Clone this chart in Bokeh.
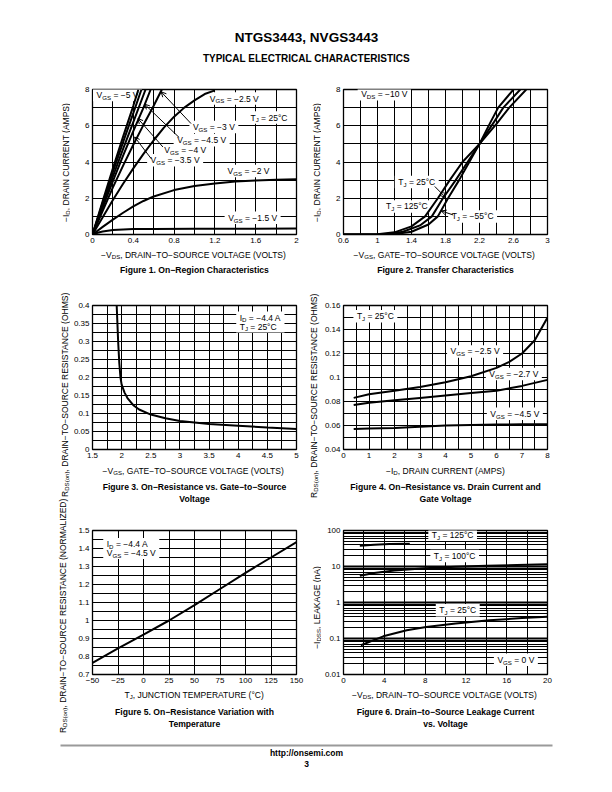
import re
import math
from bokeh.plotting import figure
from bokeh.models import Range1d, FixedTicker, Label, Arrow, OpenHead, Grid
from bokeh.layouts import column, row
from bokeh.embed import file_html
from bokeh.resources import INLINE

FONT = "Liberation Sans"
M = "\u2212"

# ====================== DATA ======================
# ---- Figure 1: On-Region Characteristics (-VDS vs -ID)
f1_vds_m5 = [0, 0.1, 0.2, 0.3, 0.4, 0.45]
f1_id_m5 = [0, 1.85, 3.65, 5.4, 7.1, 8.0]
f1_vds_m45 = [0, 0.1, 0.2, 0.3, 0.4, 0.48]
f1_id_m45 = [0, 1.75, 3.45, 5.1, 6.7, 8.0]
f1_vds_m4 = [0, 0.1, 0.2, 0.3, 0.4, 0.52]
f1_id_m4 = [0, 1.62, 3.2, 4.72, 6.2, 8.0]
f1_vds_m35 = [0, 0.1, 0.2, 0.3, 0.4, 0.5, 0.57]
f1_id_m35 = [0, 1.5, 2.95, 4.35, 5.7, 7.0, 8.0]
f1_vds_m3 = [0, 0.1, 0.2, 0.3, 0.4, 0.5, 0.6, 0.68]
f1_id_m3 = [0, 1.3, 2.6, 3.8, 4.95, 6.05, 7.1, 8.0]
f1_vds_m25 = [0, 0.1, 0.2, 0.3, 0.4, 0.5, 0.6, 0.7, 0.8, 0.9, 1.0, 1.1, 1.2]
f1_id_m25 = [0, 0.95, 1.9, 2.8, 3.65, 4.45, 5.2, 5.9, 6.5, 7.0, 7.4, 7.75, 7.95]
f1_vds_m2 = [0, 0.1, 0.2, 0.3, 0.4, 0.5, 0.6, 0.8, 1.0, 1.2, 1.4, 1.6, 1.8, 2.0]
f1_id_m2 = [0, 0.42, 0.82, 1.2, 1.55, 1.85, 2.1, 2.45, 2.68, 2.82, 2.92, 2.98, 3.02, 3.05]
f1_vds_m15 = [0, 0.05, 0.1, 0.2, 0.3, 0.4, 0.6, 1.0, 1.5, 2.0]
f1_id_m15 = [0, 0.1, 0.17, 0.25, 0.28, 0.3, 0.31, 0.32, 0.32, 0.33]
f1_x_ticks = [0, 0.4, 0.8, 1.2, 1.6, 2.0]
f1_x_labels = ["0", "0.4", "0.8", "1.2", "1.6", "2"]
f1_y_ticks = [0, 2, 4, 6, 8]
f1_y_labels = ["0", "2", "4", "6", "8"]

# ---- Figure 2: Transfer Characteristics (-VGS vs -ID)
f2_vgs_125 = [0.6, 1.0, 1.2, 1.4, 1.56, 1.71, 1.85, 2.0, 2.2, 2.4, 2.55, 2.75]
f2_id_125 = [0, 0.02, 0.12, 0.45, 1.0, 2.0, 3.0, 4.0, 5.0, 6.1, 7.0, 8.0]
f2_vgs_25 = [0.6, 1.1, 1.3, 1.5, 1.64, 1.77, 1.92, 2.06, 2.2, 2.37, 2.48, 2.68]
f2_id_25 = [0, 0.02, 0.15, 0.5, 1.0, 2.0, 3.0, 4.0, 5.0, 6.2, 7.0, 8.0]
f2_vgs_m55 = [0.6, 1.2, 1.4, 1.6, 1.71, 1.83, 1.96, 2.08, 2.2, 2.33, 2.42, 2.6]
f2_id_m55 = [0, 0.02, 0.15, 0.55, 1.0, 2.0, 3.0, 4.0, 5.0, 6.2, 7.0, 8.0]
f2_x_ticks = [0.6, 1.0, 1.4, 1.8, 2.2, 2.6, 3.0]
f2_x_labels = ["0.6", "1", "1.4", "1.8", "2.2", "2.6", "3"]
f2_y_ticks = [0, 2, 4, 6, 8]
f2_y_labels = ["0", "2", "4", "6", "8"]

# ---- Figure 3: On-Resistance vs Gate-to-Source Voltage
f3_vgs = [1.915, 1.94, 1.96, 1.98, 2.0, 2.05, 2.1, 2.2, 2.3, 2.5, 2.75, 3.0, 3.5, 4.0, 4.5, 5.0]
f3_rds = [0.4, 0.3, 0.24, 0.2, 0.18, 0.158, 0.143, 0.123, 0.111, 0.097, 0.087, 0.079, 0.071, 0.066, 0.061, 0.057]
f3_x_ticks = [1.5, 2.0, 2.5, 3.0, 3.5, 4.0, 4.5, 5.0]
f3_x_labels = ["1.5", "2", "2.5", "3", "3.5", "4", "4.5", "5"]
f3_y_ticks = [0, 0.05, 0.1, 0.15, 0.2, 0.25, 0.3, 0.35, 0.4]
f3_y_labels = ["0", "0.05", "0.1", "0.15", "0.2", "0.25", "0.3", "0.35", "0.4"]

# ---- Figure 4: On-Resistance vs Drain Current and Gate Voltage
f4_id_25 = [0.4, 1, 2, 3, 4, 5, 6, 6.5, 7, 7.5, 8]
f4_r_25 = [0.083, 0.086, 0.089, 0.092, 0.096, 0.101, 0.108, 0.113, 0.12, 0.131, 0.15]
f4_id_27 = [0.4, 1, 2, 3, 4, 5, 6, 7, 8]
f4_r_27 = [0.077, 0.079, 0.081, 0.083, 0.085, 0.087, 0.089, 0.093, 0.098]
f4_id_45 = [0.4, 1, 2, 3, 4, 5, 6, 7, 8]
f4_r_45 = [0.057, 0.0575, 0.058, 0.059, 0.06, 0.0605, 0.0608, 0.061, 0.061]
f4_x_ticks = [0, 1, 2, 3, 4, 5, 6, 7, 8]
f4_x_labels = ["0", "1", "2", "3", "4", "5", "6", "7", "8"]
f4_y_ticks = [0.04, 0.06, 0.08, 0.1, 0.12, 0.14, 0.16]
f4_y_labels = ["0.04", "0.06", "0.08", "0.1", "0.12", "0.14", "0.16"]

# ---- Figure 5: On-Resistance Variation with Temperature
f5_tj = [-50, -25, 0, 25, 50, 75, 100, 125, 150]
f5_rn = [0.765, 0.845, 0.922, 1.0, 1.085, 1.175, 1.265, 1.35, 1.435]
f5_x_ticks = [-50, -25, 0, 25, 50, 75, 100, 125, 150]
f5_x_labels = [M + "50", M + "25", "0", "25", "50", "75", "100", "125", "150"]
f5_y_ticks = [0.7, 0.8, 0.9, 1.0, 1.1, 1.2, 1.3, 1.4, 1.5]
f5_y_labels = ["0.7", "0.8", "0.9", "1", "1.1", "1.2", "1.3", "1.4", "1.5"]

# ---- Figure 6: Drain-to-Source Leakage Current vs Voltage
f6_vds_125 = [1.6, 3, 4.5, 6.5]
f6_i_125 = [38, 40, 42, 43]
f6_vds_100 = [1.6, 3, 5, 8, 11, 14, 17, 20]
f6_i_100 = [5.5, 6.6, 7.7, 9.0, 9.9, 10.5, 11.0, 11.5]
f6_vds_25 = [1.7, 3.9, 6.2, 8.1, 11, 14.3, 17.5, 20]
f6_i_25 = [0.065, 0.115, 0.17, 0.21, 0.26, 0.32, 0.37, 0.40]
f6_x_ticks = [0, 4, 8, 12, 16, 20]
f6_x_labels = ["0", "4", "8", "12", "16", "20"]
f6_y_ticks = [0.01, 0.1, 1, 10, 100]
f6_y_labels = ["0.01", "0.1", "1", "10", "100"]

# ====================== HELPERS ======================
AW = {' ': 278, '!': 278, '(': 333, ')': 333, ',': 278, '-': 333, '.': 278, '/': 278, ':': 278,
      '=': 584, '\u2212': 584, '\u00b0': 400,
      'A': 667, 'B': 667, 'C': 722, 'D': 722, 'E': 667, 'F': 611, 'G': 778, 'H': 722, 'I': 278,
      'J': 500, 'K': 667, 'L': 556, 'M': 833, 'N': 722, 'O': 778, 'P': 667, 'Q': 778, 'R': 722,
      'S': 667, 'T': 611, 'U': 722, 'V': 667, 'W': 944, 'X': 667, 'Y': 667, 'Z': 611,
      'a': 556, 'b': 556, 'c': 500, 'd': 556, 'e': 556, 'f': 278, 'g': 556, 'h': 556, 'i': 222,
      'j': 222, 'k': 500, 'l': 222, 'm': 833, 'n': 556, 'o': 556, 'p': 556, 'q': 556, 'r': 333,
      's': 500, 't': 278, 'u': 556, 'v': 500, 'w': 722, 'x': 500, 'y': 500, 'z': 500}

TS = 8.5      # in-chart / axis-title text size (px)
SUB = 0.72    # subscript scale
TICK = "8px"


def tw(s, size):
    return sum(AW.get(c, 556) for c in s) * size / 1000.0


def parse(s):
    parts, pos = [], 0
    for m in re.finditer(r"_\{([^}]*)\}", s):
        if m.start() > pos:
            parts.append((s[pos:m.start()], False))
        parts.append((m.group(1), True))
        pos = m.end()
    if pos < len(s):
        parts.append((s[pos:], False))
    return parts


def rich_width(s, size=TS):
    return sum(tw(t, size * SUB if sb else size) for t, sb in parse(s))


def rich(p, x, y, s, size=TS, align="center", angle=0.0, dx=0.0, dy=0.0):
    parts = parse(s)
    total = rich_width(s, size)
    off = {"center": -total / 2.0, "left": 0.0, "right": -total}[align]
    for t, sb in parts:
        fs = size * SUB if sb else size
        lead = len(t) - len(t.lstrip(" "))
        off += tw(" " * lead, fs)
        t2 = t.strip(" ")
        if t2:
            if angle == 0:
                xo, yo = dx + off, dy + (-2.4 if sb else 0.0)
            else:
                xo, yo = dx + (2.4 if sb else 0.0), dy + off
            p.add_layout(Label(x=x, y=y, x_offset=xo, y_offset=yo, text=t2, angle=angle,
                               text_align="left", text_baseline="middle", text_font=FONT,
                               text_font_size=f"{fs:.2f}px", text_color="black"))
        off += tw(t.lstrip(" "), fs)


def boxed(p, x, y, lines, size=TS, padx=3.5, pady=1.5, lead=9.5, align="center"):
    widths = [rich_width(s, size) for s in lines]
    bw = max(widths) + 2 * padx
    bh = lead * len(lines) + 2 * pady
    p.rect(x=[x], y=[y], width=[bw], height=[bh], width_units="screen", height_units="screen",
           fill_color="white", line_color=None)
    n = len(lines)
    for i, s in enumerate(lines):
        ddy = (n - 1) / 2.0 * lead - i * lead
        if align == "center":
            rich(p, x, y, s, size, "center", dy=ddy)
        else:
            rich(p, x, y, s, size, "left", dx=-bw / 2.0 + padx, dy=ddy)


def arrow(p, x0, y0, x1, y1):
    p.add_layout(Arrow(end=OpenHead(size=5, line_width=1, line_color="black"),
                       x_start=x0, y_start=y0, x_end=x1, y_end=y1,
                       line_width=1, line_color="black"))


def steps(a, b, s):
    n = int(round((b - a) / s))
    return [round(a + i * s, 6) for i in range(n + 1)]


FW = 204
LB = {"L": (20, 10), "R": (20, 61)}   # left/right borders of chart figures


def chart(side, ftop, fh, fbot, xr, yr, xgrid, ygrid, xt, xl, yt, yl, ylog=False):
    bl, br = LB[side]
    p = figure(frame_width=FW, frame_height=fh, min_border_left=bl, min_border_right=br,
               min_border_top=ftop, min_border_bottom=fbot,
               x_range=Range1d(*xr), y_range=Range1d(*yr),
               y_axis_type="log" if ylog else "linear",
               output_backend="svg", toolbar_location=None)
    p.background_fill_color = "white"
    p.border_fill_color = "white"
    p.outline_line_color = "black"
    p.outline_line_width = 1.3
    p.outline_line_alpha = 1.0
    for ax, t, l in ((p.xaxis[0], xt, xl), (p.yaxis[0], yt, yl)):
        ax.ticker = FixedTicker(ticks=t, minor_ticks=[])
        ax.major_label_overrides = dict(zip(t, l))
        ax.axis_line_color = None
        ax.major_tick_line_color = None
        ax.minor_tick_line_color = None
        ax.major_tick_out = 0
        ax.major_tick_in = 0
        ax.major_label_text_font = FONT
        ax.major_label_text_font_size = TICK
        ax.major_label_text_color = "black"
        ax.major_label_standoff = 3
    p.xgrid[0].ticker = FixedTicker(ticks=xgrid, minor_ticks=[])
    p.ygrid[0].ticker = FixedTicker(ticks=ygrid, minor_ticks=[])
    for g in (p.xgrid[0], p.ygrid[0]):
        g.grid_line_color = "black"
        g.grid_line_width = 1.0
        g.grid_line_alpha = 1.0
    return p


def plain(w, h):
    p = figure(width=w, height=h, x_range=Range1d(0, w), y_range=Range1d(h, 0),
               x_axis_location=None, y_axis_location=None, output_backend="svg",
               toolbar_location=None, min_border_left=0, min_border_right=0,
               min_border_top=0, min_border_bottom=0)
    p.grid.visible = False
    p.outline_line_color = None
    p.background_fill_color = "white"
    p.border_fill_color = "white"
    return p


def bold_label(p, x, y, text, size):
    p.add_layout(Label(x=x, y=y, text=text, text_align="center", text_baseline="middle",
                       text_font=FONT, text_font_size=size, text_font_style="bold",
                       text_color="black"))


def caption(side, h, xtitle, xt_y, ftitles, ft_y):
    # its frame is aligned (by the column layout) with the chart frame above it
    bl, br = LB[side]
    p = figure(frame_width=FW, frame_height=h, min_border_left=bl, min_border_right=br,
               min_border_top=0, min_border_bottom=0, x_range=Range1d(0, FW), y_range=Range1d(h, 0),
               x_axis_location=None, y_axis_location=None, output_backend="svg",
               toolbar_location=None)
    p.grid.visible = False
    p.outline_line_color = None
    p.background_fill_color = "white"
    p.border_fill_color = "white"
    cx = FW / 2.0
    rich(p, cx, xt_y, xtitle, TS, "center")
    for i, t in enumerate(ftitles):
        bold_label(p, cx, ft_y + 12 * i, t, "8.6px")
    return p


LW = 2.0

# ---------------- Figure 1 ----------------
p1 = chart("L", 9, 145, 15, (0, 2), (0, 8), steps(0, 2, 0.2), steps(0, 8, 1),
           f1_x_ticks, f1_x_labels, f1_y_ticks, f1_y_labels)
boxed(p1, 0.245, 7.69, ["V_{GS} = " + M + "5 V"])
boxed(p1, 1.39, 7.5, ["V_{GS} = " + M + "2.5 V"])
boxed(p1, 1.73, 6.45, ["T_{J} = 25\u00b0C"])
boxed(p1, 1.19, 5.93, ["V_{GS} = " + M + "3 V"])
boxed(p1, 1.07, 5.2, ["V_{GS} = " + M + "4.5 V"])
boxed(p1, 0.91, 4.64, ["V_{GS} = " + M + "4 V"])
boxed(p1, 0.81, 4.09, ["V_{GS} = " + M + "3.5 V"])
boxed(p1, 1.53, 3.5, ["V_{GS} = " + M + "2 V"])
boxed(p1, 1.57, 0.92, ["V_{GS} = " + M + "1.5 V"])
for xs, ys in ((f1_vds_m5, f1_id_m5), (f1_vds_m45, f1_id_m45), (f1_vds_m4, f1_id_m4),
               (f1_vds_m35, f1_id_m35), (f1_vds_m3, f1_id_m3), (f1_vds_m25, f1_id_m25),
               (f1_vds_m2, f1_id_m2), (f1_vds_m15, f1_id_m15)):
    p1.line(xs, ys, line_color="black", line_width=LW)
arrow(p1, 0.966, 6.12, 0.673, 7.87)
arrow(p1, 0.85, 5.35, 0.51, 7.19)
arrow(p1, 0.69, 4.83, 0.445, 6.4)
arrow(p1, 0.576, 4.18, 0.413, 5.38)
c1 = caption("L", 41, M + "V_{DS}, DRAIN" + M + "TO" + M + "SOURCE VOLTAGE (VOLTS)", 5,
             ["Figure 1. On" + M + "Region Characteristics"], 20)

# ---------------- Figure 2 ----------------
p2 = chart("R", 9, 145, 15, (0.6, 3.0), (0, 8), steps(0.6, 3.0, 0.2), steps(0, 8, 1),
           f2_x_ticks, f2_x_labels, f2_y_ticks, f2_y_labels)
boxed(p2, 1.08, 7.74, ["V_{DS} = " + M + "10 V"])
boxed(p2, 1.462, 2.89, ["T_{J} = 25\u00b0C"])
boxed(p2, 1.346, 1.55, ["T_{J} = 125\u00b0C"])
boxed(p2, 2.119, 1.0, ["T_{J} = " + M + "55\u00b0C"])
for xs, ys in ((f2_vgs_125, f2_id_125), (f2_vgs_25, f2_id_25), (f2_vgs_m55, f2_id_m55)):
    p2.line(xs, ys, line_color="black", line_width=LW)
arrow(p2, 1.674, 2.65, 1.80, 2.05)
arrow(p2, 1.89, 1.08, 1.75, 1.3)
c2 = caption("R", 41, M + "V_{GS}, GATE" + M + "TO" + M + "SOURCE VOLTAGE (VOLTS)", 5,
             ["Figure 2. Transfer Characteristics"], 20)

# ---------------- Figure 3 ----------------
p3 = chart("L", 15, 144, 15, (1.5, 5.0), (0, 0.4), steps(1.5, 5.0, 0.25), steps(0, 0.4, 0.025),
           f3_x_ticks, f3_x_labels, f3_y_ticks, f3_y_labels)
boxed(p3, 4.38, 0.354, ["I_{D} = " + M + "4.4 A", "T_{J} = 25\u00b0C"], align="left", lead=9.0)
p3.line(f3_vgs, f3_rds, line_color="black", line_width=LW)
c3 = caption("L", 51, M + "V_{GS}, GATE" + M + "TO" + M + "SOURCE VOLTAGE (VOLTS)", 6,
             ["Figure 3. On" + M + "Resistance vs. Gate" + M + "to" + M + "Source", "Voltage"], 22)

# ---------------- Figure 4 ----------------
p4 = chart("R", 15, 144, 15, (0, 8), (0.04, 0.16), steps(0, 8, 0.5), steps(0.04, 0.16, 0.01),
           f4_x_ticks, f4_x_labels, f4_y_ticks, f4_y_labels)
boxed(p4, 1.25, 0.151, ["T_{J} = 25\u00b0C"])
boxed(p4, 5.16, 0.1217, ["V_{GS} = " + M + "2.5 V"])
boxed(p4, 6.68, 0.103, ["V_{GS} = " + M + "2.7 V"])
boxed(p4, 6.72, 0.0697, ["V_{GS} = " + M + "4.5 V"])
for xs, ys in ((f4_id_25, f4_r_25), (f4_id_27, f4_r_27), (f4_id_45, f4_r_45)):
    p4.line(xs, ys, line_color="black", line_width=LW)
c4 = caption("R", 51, M + "I_{D}, DRAIN CURRENT (AMPS)", 6,
             ["Figure 4. On" + M + "Resistance vs. Drain Current and", "Gate Voltage"], 22)

# ---------------- Figure 5 ----------------
p5 = chart("L", 15, 144, 15, (-50, 150), (0.7, 1.5), steps(-50, 150, 25), steps(0.7, 1.5, 0.05),
           f5_x_ticks, f5_x_labels, f5_y_ticks, f5_y_labels)
boxed(p5, -12, 1.40, ["I_{D} = " + M + "4.4 A", "V_{GS} = " + M + "4.5 V"], align="left", lead=9.0)
p5.line(f5_tj, f5_rn, line_color="black", line_width=LW)
c5 = caption("L", 46, "T_{J}, JUNCTION TEMPERATURE (\u00b0C)", 5,
             ["Figure 5. On" + M + "Resistance Variation with", "Temperature"], 22)

# ---------------- Figure 6 ----------------
minor6 = [k * 10.0 ** e for e in range(-2, 2) for k in range(2, 10)]
p6 = chart("R", 15, 144, 15, (0, 20), (0.01, 100), steps(0, 20, 2), minor6,
           f6_x_ticks, f6_x_labels, f6_y_ticks, f6_y_labels, ylog=True)
p6.add_layout(Grid(dimension=1, ticker=FixedTicker(ticks=f6_y_ticks, minor_ticks=[]),
                   grid_line_color="black", grid_line_width=1.8))
boxed(p6, 10.7, 75.6, ["T_{J} = 125\u00b0C"])
boxed(p6, 10.9, 19.6, ["T_{J} = 100\u00b0C"])
boxed(p6, 11.2, 0.61, ["T_{J} = 25\u00b0C"])
boxed(p6, 16.9, 0.0257, ["V_{GS} = 0 V"])
for xs, ys in ((f6_vds_125, f6_i_125), (f6_vds_100, f6_i_100), (f6_vds_25, f6_i_25)):
    p6.line(xs, ys, line_color="black", line_width=LW)
c6 = caption("R", 46, M + "V_{DS}, DRAIN" + M + "TO" + M + "SOURCE VOLTAGE (VOLTS)", 5,
             ["Figure 6. Drain" + M + "to" + M + "Source Leakage Current", "vs. Voltage"], 22)

# ---------------- y-axis title strips (page y 80 .. 735) ----------------
BAND = 655
stripL = plain(70, BAND)
rich(stripL, 65, 82, M + "I_{D}, DRAIN CURRENT (AMPS)", angle=math.pi / 2)
rich(stripL, 64, 314, "R_{DS(on)}, DRAIN" + M + "TO" + M + "SOURCE RESISTANCE (OHMS)", angle=math.pi / 2)
rich(stripL, 62, 535, "R_{DS(on)}, DRAIN" + M + "TO" + M + "SOURCE RESISTANCE (NORMALIZED)",
     angle=math.pi / 2)

stripR = plain(15, BAND)
rich(stripR, 10, 82, M + "I_{D}, DRAIN CURRENT (AMPS)", angle=math.pi / 2)
rich(stripR, 7, 315, "R_{DS(on)}, DRAIN" + M + "TO" + M + "SOURCE RESISTANCE (OHMS)", angle=math.pi / 2)
rich(stripR, 10, 527, M + "I_{DSS}, LEAKAGE (nA)", angle=math.pi / 2)

# ---------------- header / footer ----------------
hdr = plain(604, 80)
bold_label(hdr, 306, 37, "NTGS3443, NVGS3443", "13.5px")
bold_label(hdr, 306, 58, "TYPICAL ELECTRICAL CHARACTERISTICS", "10px")

ftr = plain(604, 55)
ftr.segment(x0=[60], y0=[10], x1=[552], y1=[10], line_color="#9a9a9a", line_width=2)
bold_label(ftr, 306, 17, "http://onsemi.com", "8.5px")
bold_label(ftr, 306, 28, "3", "8.5px")

colL = column(p1, c1, p3, c3, p5, c5)
colR = column(p2, c2, p4, c4, p6, c6)
page = column(hdr, row(stripL, colL, stripR, colR), ftr)
open("out.html", "w").write(file_html(page, INLINE, title="NTGS3443"))
